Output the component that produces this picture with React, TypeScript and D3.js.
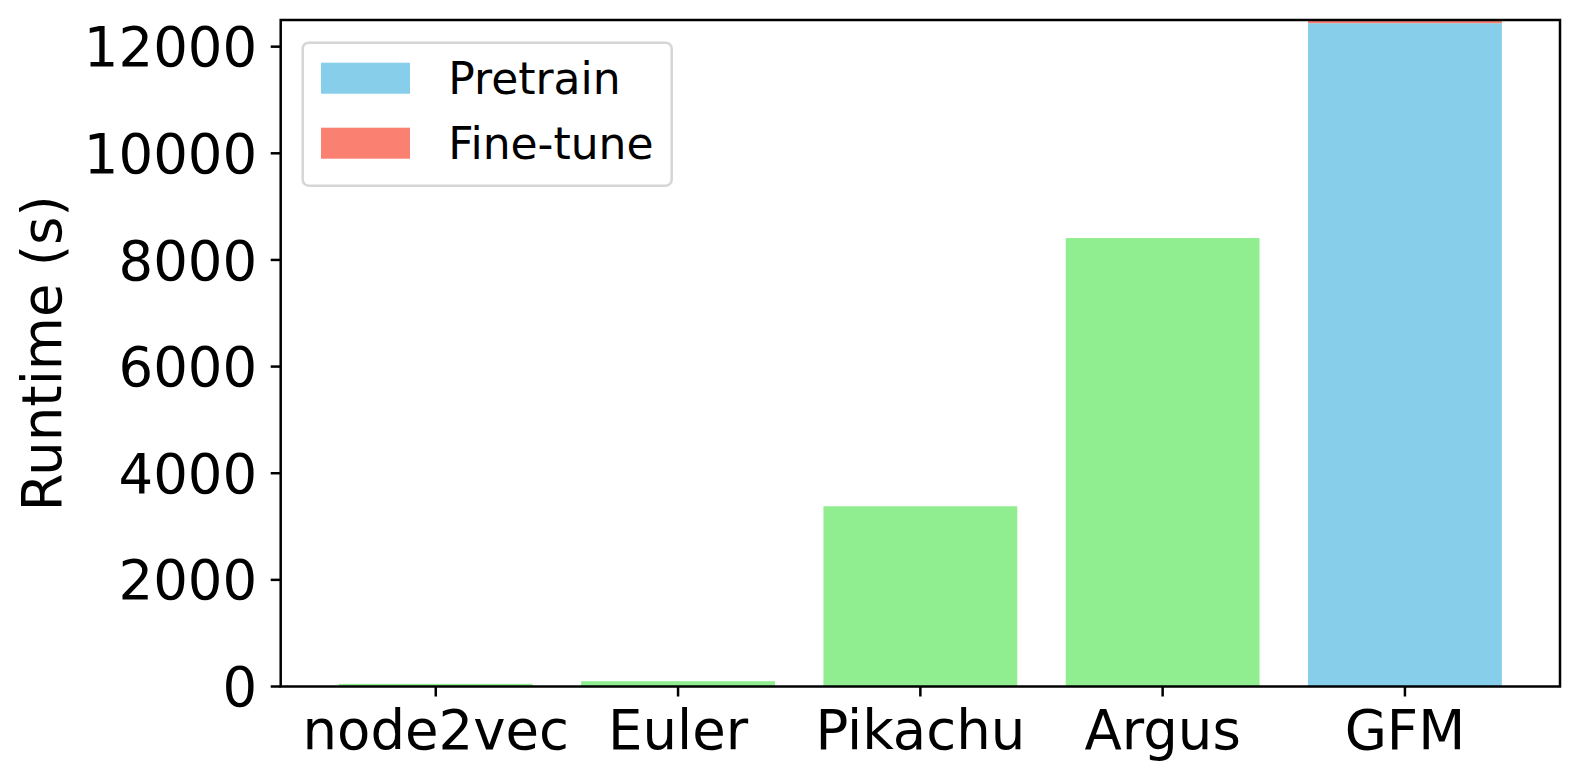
import React from "react";
import * as d3 from "d3";

// values
const CATEGORIES = ["node2vec", "Euler", "Pikachu", "Argus", "GFM"];
const BASELINE_RUNTIME = [50, 100, 3380, 8410, 0];
const PRETRAIN = [0, 0, 0, 0, 12440];
const FINETUNE = [0, 0, 0, 0, 150];
const Y_TICKS = [0, 2000, 4000, 6000, 8000, 10000, 12000];
const LEGEND = ["Pretrain", "Fine-tune"];

const WIDTH = 1580;
const HEIGHT = 780;
const PLOT = { left: 280.7, right: 1560, top: 20, bottom: 686.5 };
const COLORS = { base: "#90EE90", pretrain: "#87CEEB", finetune: "#FA8072" };
const FONT = "'DejaVu Sans', sans-serif";
const BAR_WIDTH = 0.8;

const App = () => {
  const x = d3
    .scaleLinear()
    .domain([-0.64, CATEGORIES.length - 1 + 0.64])
    .range([PLOT.left, PLOT.right]);
  const y = d3.scaleLinear().domain([0, 12500]).range([PLOT.bottom, PLOT.top]);
  const bw = x(BAR_WIDTH) - x(0);

  const bars: { key: string; x: number; y0: number; y1: number; fill: string }[] = [];
  CATEGORIES.forEach((c, i) => {
    if (BASELINE_RUNTIME[i] > 0) {
      bars.push({ key: c + "-b", x: i, y0: 0, y1: BASELINE_RUNTIME[i], fill: COLORS.base });
    }
    if (PRETRAIN[i] > 0) {
      bars.push({ key: c + "-p", x: i, y0: 0, y1: PRETRAIN[i], fill: COLORS.pretrain });
    }
    if (FINETUNE[i] > 0) {
      bars.push({
        key: c + "-f",
        x: i,
        y0: PRETRAIN[i],
        y1: PRETRAIN[i] + FINETUNE[i],
        fill: COLORS.finetune,
      });
    }
  });

  const legendColors = [COLORS.pretrain, COLORS.finetune];

  return (
    <svg
      width={WIDTH}
      height={HEIGHT}
      style={{ position: "absolute", left: 0, top: 0, background: "#fff" }}
      fontFamily={FONT}
    >
      <defs>
        <clipPath id="plot-clip">
          <rect
            x={PLOT.left}
            y={PLOT.top}
            width={PLOT.right - PLOT.left}
            height={PLOT.bottom - PLOT.top}
          />
        </clipPath>
      </defs>

      <g clipPath="url(#plot-clip)">
        {bars.map((b) => (
          <rect
            key={b.key}
            x={x(b.x) - bw / 2}
            y={y(b.y1)}
            width={bw}
            height={y(b.y0) - y(b.y1)}
            fill={b.fill}
          />
        ))}
      </g>

      {/* y axis */}
      {Y_TICKS.map((t) => (
        <g key={t} transform={`translate(0,${y(t)})`}>
          <line x1={PLOT.left - 10} x2={PLOT.left} stroke="#000" strokeWidth={2.5} />
          <text
            x={PLOT.left - 23.5}
            dy="0.36em"
            textAnchor="end"
            fontSize={54.5}
            fill="#000"
          >
            {t}
          </text>
        </g>
      ))}

      {/* x axis */}
      {CATEGORIES.map((c, i) => (
        <g key={c} transform={`translate(${x(i)},0)`}>
          <line y1={PLOT.bottom} y2={PLOT.bottom + 10} stroke="#000" strokeWidth={2.5} />
          <text y={748.5} textAnchor="middle" fontSize={54.5} fill="#000">
            {c}
          </text>
        </g>
      ))}

      <text
        transform={`translate(61,${(PLOT.top + PLOT.bottom) / 2}) rotate(-90)`}
        textAnchor="middle"
        fontSize={54.5}
        fill="#000"
      >
        Runtime (s)
      </text>

      {/* frame */}
      <rect
        x={PLOT.left}
        y={PLOT.top}
        width={PLOT.right - PLOT.left}
        height={PLOT.bottom - PLOT.top}
        fill="none"
        stroke="#000"
        strokeWidth={2.5}
      />

      {/* legend */}
      <g>
        <rect
          x={302.7}
          y={42.7}
          width={369}
          height={143}
          rx={6}
          fill="#fff"
          fillOpacity={0.8}
          stroke="#d6d6d6"
          strokeWidth={2.5}
        />
        {LEGEND.map((name, i) => (
          <g key={name} transform={`translate(0,${i * 65})`}>
            <rect x={321} y={62.7} width={89} height={31} fill={legendColors[i]} />
            <text x={448.3} y={94} fontSize={44} fill="#000">
              {name}
            </text>
          </g>
        ))}
      </g>
    </svg>
  );
};

export default App;
